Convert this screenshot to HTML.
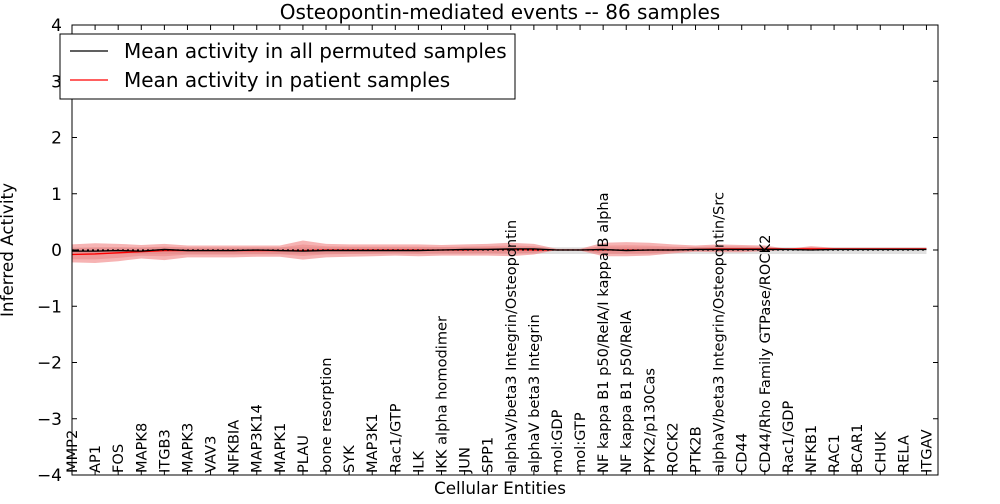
<!DOCTYPE html>
<html><head><meta charset="utf-8"><style>
body{margin:0;background:#fff;font-family:"DejaVu Sans",sans-serif}
svg text{font-family:"DejaVu Sans","Liberation Sans",sans-serif}
</style></head><body>
<svg id="c" width="1000" height="500" xmlns="http://www.w3.org/2000/svg"></svg>
<script>
const categories=["MMP2","AP1","FOS","MAPK8","ITGB3","MAPK3","VAV3","NFKBIA","MAP3K14","MAPK1","PLAU","bone resorption","SYK","MAP3K1","Rac1/GTP","ILK","IKK alpha homodimer","JUN","SPP1","alphaV/beta3 Integrin/Osteopontin","alphaV beta3 Integrin","mol:GDP","mol:GTP","NF kappa B1 p50/RelA/I kappa B alpha","NF kappa B1 p50/RelA","PYK2/p130Cas","ROCK2","PTK2B","alphaV/beta3 Integrin/Osteopontin/Src","CD44","CD44/Rho Family GTPase/ROCK2","Rac1/GDP","NFKB1","RAC1","BCAR1","CHUK","RELA","ITGAV"];
const patientMean=[-0.08,-0.07,-0.05,-0.03,-0.01,-0.01,-0.01,-0.01,-0.01,-0.01,-0.01,0,0,0,0,0,0,0,0.01,0.01,0,0,0,0,0,0,0,0.01,0.02,0.02,0.02,0.02,0.02,0.02,0.02,0.02,0.02,0.02];
const permMean=[-0.02,-0.02,-0.01,-0.02,0.01,-0.01,-0.01,-0.01,0,-0.01,-0.02,-0.01,-0.01,-0.01,-0.01,-0.01,0,0.01,0.01,0.02,0.02,0,0,0.01,-0.01,0,0,0.01,0.01,0.01,0.01,0.01,0,0.01,0.01,0.01,0.01,0.01];
const bandHi=[0.1,0.12,0.11,0.09,0.11,0.08,0.08,0.08,0.08,0.08,0.17,0.11,0.1,0.1,0.1,0.1,0.09,0.1,0.11,0.13,0.11,0.02,0.02,0.13,0.14,0.13,0.1,0.08,0.1,0.09,0.08,0.02,0.07,0.04,0.04,0.04,0.04,0.04];
const bandLo=[-0.22,-0.23,-0.2,-0.15,-0.18,-0.13,-0.13,-0.13,-0.12,-0.12,-0.17,-0.13,-0.12,-0.11,-0.1,-0.11,-0.1,-0.1,-0.1,-0.11,-0.08,0,-0.01,-0.11,-0.11,-0.1,-0.06,-0.03,-0.04,-0.04,-0.02,0,0,0.01,0.01,0.01,0.01,0.01];
const permHi=[0.05,0.05,0.05,0.05,0.05,0.05,0.05,0.05,0.05,0.05,0.05,0.05,0.05,0.05,0.05,0.05,0.05,0.05,0.05,0.05,0.05,0.05,0.05,0.05,0.05,0.05,0.05,0.05,0.05,0.05,0.05,0.05,0.05,0.05,0.05,0.05,0.05,0.05];
const permLo=[-0.07,-0.07,-0.07,-0.07,-0.07,-0.07,-0.07,-0.07,-0.07,-0.07,-0.07,-0.07,-0.07,-0.07,-0.07,-0.07,-0.07,-0.07,-0.07,-0.07,-0.07,-0.07,-0.07,-0.07,-0.07,-0.07,-0.07,-0.07,-0.07,-0.07,-0.07,-0.07,-0.07,-0.07,-0.07,-0.07,-0.07,-0.07];
const yTicks=[-4,-3,-2,-1,0,1,2,3,4];
const yTickLabels=["\u22124","\u22123","\u22122","\u22121","0","1","2","3","4"];

const L=72,R=938,T=25,B=475,NS="http://www.w3.org/2000/svg";
const svg=document.getElementById('c');
const x=i=>L+(i)*(R-L)/37.5;
const y=v=>B-(v+4)*(B-T)/8;
function mk(t,a,p){const e=document.createElementNS(NS,t);for(const k in a)e.setAttribute(k,a[k]);(p||svg).appendChild(e);return e;}
function area(hi,lo,fill,op,name){let d=hi.map((v,i)=>(i?'L':'M')+x(i)+','+y(v)).join('');for(let i=lo.length-1;i>=0;i--)d+='L'+x(i)+','+y(lo[i]);d+='Z';const e=mk('path',{d:d,fill:fill,'fill-opacity':op});}
function line(arr,stroke,dash,name){const e=mk('path',{d:arr.map((v,i)=>(i?'L':'M')+x(i)+','+y(v)).join(''),fill:'none',stroke:stroke,'stroke-width':1.3});if(dash)e.setAttribute('stroke-dasharray',dash);}
area(permHi,permLo,'#bbbbbb',0.45,'permuted-band');
area(bandHi,bandLo,'#f08080',0.6,'patient-band');
area(bandHi.map((v,i)=>v*0.6+patientMean[i]*0.4),bandLo.map((v,i)=>v*0.6+patientMean[i]*0.4),'#e06060',0.3,'patient-inner-band');
line(patientMean,'#ff0000',null,'patient-mean-line');
line(permMean,'#000000',null,'permuted-mean-line');
line(permMean.map(()=>0),'#000','2,3','zero-dotted-line');
const fr=mk('rect',{x:L,y:T,width:R-L,height:B-T,fill:'none',stroke:'#000','stroke-width':1});

yTicks.forEach((v,i)=>{mk('line',{x1:L,x2:L+5,y1:y(v),y2:y(v),stroke:'#000'});mk('line',{x1:R,x2:R-5,y1:y(v),y2:y(v),stroke:'#000'});
const t=mk('text',{x:L-10,y:y(v)+6,'text-anchor':'end','font-size':17});t.textContent=yTickLabels[i];});
categories.forEach((c,i)=>{mk('line',{x1:x(i),x2:x(i),y1:B,y2:B-5,stroke:'#000'});mk('line',{x1:x(i),x2:x(i),y1:T,y2:T+5,stroke:'#000'});
const t=mk('text',{transform:`translate(${x(i)+5},${B-2}) rotate(-90)`,'font-size':14.6});t.textContent=c;});
const ti=mk('text',{x:500,y:19,'text-anchor':'middle','font-size':20});ti.textContent='Osteopontin-mediated events -- 86 samples';
const xt=mk('text',{x:500,y:494,'text-anchor':'middle','font-size':16.8});xt.textContent='Cellular Entities';
const yt=mk('text',{transform:'translate(13,250) rotate(-90)','text-anchor':'middle','font-size':16.8});yt.textContent='Inferred Activity';
const lg=mk('g',{});
mk('rect',{x:60,y:34,width:455,height:65,fill:'#fff',stroke:'#000'},lg);
mk('line',{x1:70,x2:108,y1:51,y2:51,stroke:'#000','stroke-width':1.3},lg);
mk('line',{x1:70,x2:108,y1:80,y2:80,stroke:'#f00','stroke-width':1.3},lg);
const l1=mk('text',{x:124,y:58,'font-size':20},lg);l1.textContent='Mean activity in all permuted samples';
const l2=mk('text',{x:124,y:87,'font-size':20},lg);l2.textContent='Mean activity in patient samples';
</script>
</body></html>
